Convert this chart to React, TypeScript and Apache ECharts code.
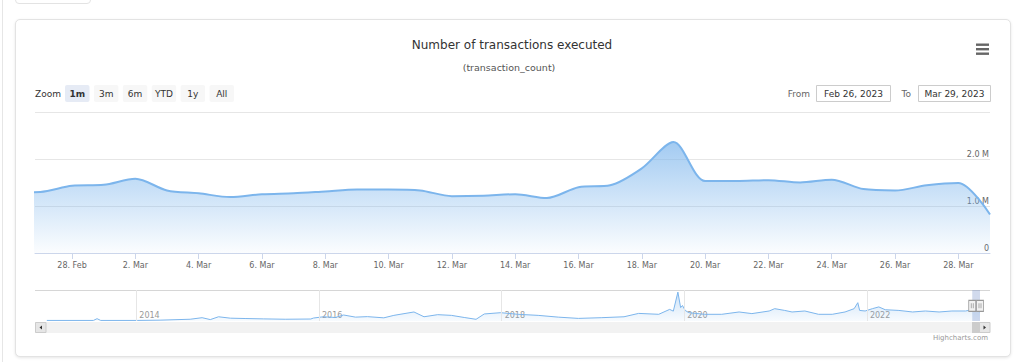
import React, { useEffect, useRef } from "react";
import * as echarts from "echarts";

// ---------- data ----------
const dates = [
  "2023-02-26", "2023-02-27", "2023-02-28", "2023-03-01", "2023-03-02", "2023-03-03",
  "2023-03-04", "2023-03-05", "2023-03-06", "2023-03-07", "2023-03-08", "2023-03-09",
  "2023-03-10", "2023-03-11", "2023-03-12", "2023-03-13", "2023-03-14", "2023-03-15",
  "2023-03-16", "2023-03-17", "2023-03-18", "2023-03-19", "2023-03-20", "2023-03-21",
  "2023-03-22", "2023-03-23", "2023-03-24", "2023-03-25", "2023-03-26", "2023-03-27",
  "2023-03-28", "2023-03-29",
];
const txCountMillions = [
  1.29, 1.30, 1.43, 1.45, 1.58, 1.33,
  1.27, 1.19, 1.25, 1.27, 1.31, 1.35,
  1.35, 1.33, 1.21, 1.22, 1.25, 1.17,
  1.40, 1.44, 1.80, 2.36, 1.53, 1.53,
  1.55, 1.50, 1.56, 1.36, 1.33, 1.44,
  1.49, 0.82,
];
const xTickDates = [
  "2023-02-28", "2023-03-02", "2023-03-04", "2023-03-06", "2023-03-08", "2023-03-10",
  "2023-03-12", "2023-03-14", "2023-03-16", "2023-03-18", "2023-03-20", "2023-03-22",
  "2023-03-24", "2023-03-26", "2023-03-28",
];
const yTicksMillions = [0, 1, 2, 3];

const navYears = [
  2013.02, 2013.53, 2013.57, 2013.61, 2014.01, 2014.26, 2014.59, 2014.72, 2014.81, 2014.90,
  2015.03, 2015.20, 2015.39, 2015.63, 2015.91, 2015.94, 2016.05, 2016.18, 2016.27, 2016.40,
  2016.53, 2016.71, 2016.82, 2017.04, 2017.15, 2017.30, 2017.45, 2017.59, 2017.72, 2017.81,
  2017.99, 2018.18, 2018.40, 2018.62, 2018.84, 2019.09, 2019.34, 2019.50, 2019.72, 2019.84,
  2019.88, 2019.93, 2019.96, 2019.98, 2020.01, 2020.05, 2020.22, 2020.41, 2020.60, 2020.74,
  2020.93, 2020.99, 2021.10, 2021.18, 2021.32, 2021.47, 2021.62, 2021.76, 2021.86, 2021.90,
  2021.92, 2021.98, 2022.06, 2022.13, 2022.20, 2022.35, 2022.50, 2022.64, 2022.79, 2022.93,
  2023.08, 2023.15, 2023.238,
];
const navCountMillions = [
  0.08, 0.08, 0.33, 0.08, 0.08, 0.12, 0.25, 0.47, 0.2, 0.6,
  0.4, 0.35, 0.3, 0.25, 0.28, 0.42, 0.6, 0.5, 0.85, 0.55,
  0.62, 0.45, 0.8, 1.28, 0.6, 0.9, 0.8, 0.5, 0.24, 1.0,
  1.18, 0.95, 0.8, 0.55, 0.37, 0.47, 0.6, 1.08, 0.95, 1.65,
  1.4, 4.1, 1.9, 2.2, 1.5, 1.18, 0.95, 0.95, 1.28, 1.05,
  1.42, 1.75, 1.5, 1.28, 1.42, 0.95, 0.95, 1.28, 1.75, 2.6,
  1.5, 1.42, 1.75, 2.0, 1.6, 1.5, 1.28, 1.42, 1.28, 1.42,
  1.42, 1.6, 1.3,
];
const navYearTicks = [2014, 2016, 2018, 2020, 2022];
const navSelection = [2023.153, 2023.238];

const zoomButtons = ["1m", "3m", "6m", "YTD", "1y", "All"];
const selectedZoom = "1m";
const rangeFrom = "Feb 26, 2023";
const rangeTo = "Mar 29, 2023";
const titleText = "Number of transactions executed";
const subtitleText = "(transaction_count)";

// ---------- helpers ----------
const FONT = "DejaVu Sans";
const MONTHS = ["Jan", "Feb", "Mar", "Apr", "May", "Jun", "Jul", "Aug", "Sep", "Oct", "Nov", "Dec"];
const DAY = 86400000;
const BASE = Date.UTC(2023, 1, 26);
const toDay = (s: string) => {
  const [y, m, d] = s.split("-").map(Number);
  return (Date.UTC(y, m - 1, d) - BASE) / DAY;
};
const dayLabel = (v: number) => {
  const d = new Date(BASE + Math.round(v) * DAY);
  return `${d.getUTCDate()}. ${MONTHS[d.getUTCMonth()]}`;
};

function buildOption() {
  const mainData = dates.map((d, i) => [toDay(d), txCountMillions[i]]);
  const tickDays = xTickDates.map(toDay);
  const navData = navYears.map((y, i) => [y, navCountMillions[i]]);

  const graphics: any[] = [];
  graphics.push({
    type: "text", x: 512, y: 45, silent: true,
    style: { text: titleText, fill: "#333333", fontSize: 12, fontFamily: FONT, align: "center", verticalAlign: "middle" },
  });
  graphics.push({
    type: "text", x: 509, y: 67, silent: true,
    style: { text: subtitleText, fill: "#555555", fontSize: 9.5, fontFamily: FONT, align: "center", verticalAlign: "middle" },
  });
  // hamburger
  [43.5, 48, 52.5].forEach((y) => {
    graphics.push({ type: "rect", silent: true, shape: { x: 976, y, width: 13, height: 2.4 }, style: { fill: "#666666" } });
  });
  // zoom label + buttons
  graphics.push({
    type: "text", x: 35, y: 93.5, silent: true,
    style: { text: "Zoom", fill: "#333333", fontSize: 9, fontFamily: FONT, align: "left", verticalAlign: "middle" },
  });
  zoomButtons.forEach((b, i) => {
    const x = 65 + i * 28.9;
    const sel = b === selectedZoom;
    graphics.push({
      type: "rect", silent: true,
      shape: { x, y: 85, width: 24.5, height: 17, r: 2 },
      style: { fill: sel ? "#e6ebf5" : "#f7f7f7", stroke: "none" },
    });
    graphics.push({
      type: "text", x: x + 12.25, y: 93.5, silent: true,
      style: { text: b, fill: "#333333", fontSize: 9, fontWeight: sel ? "bold" : "normal", fontFamily: FONT, align: "center", verticalAlign: "middle" },
    });
  });
  // From / To
  graphics.push({
    type: "text", x: 810, y: 93.5, silent: true,
    style: { text: "From", fill: "#666666", fontSize: 9, fontFamily: FONT, align: "right", verticalAlign: "middle" },
  });
  graphics.push({ type: "rect", silent: true, shape: { x: 816.5, y: 85.5, width: 74, height: 16 }, style: { fill: "#ffffff", stroke: "#cccccc", lineWidth: 1 } });
  graphics.push({
    type: "text", x: 853.5, y: 93.5, silent: true,
    style: { text: rangeFrom, fill: "#333333", fontSize: 9, fontFamily: FONT, align: "center", verticalAlign: "middle" },
  });
  graphics.push({
    type: "text", x: 911, y: 93.5, silent: true,
    style: { text: "To", fill: "#666666", fontSize: 9, fontFamily: FONT, align: "right", verticalAlign: "middle" },
  });
  graphics.push({ type: "rect", silent: true, shape: { x: 918.5, y: 85.5, width: 72, height: 16 }, style: { fill: "#ffffff", stroke: "#cccccc", lineWidth: 1 } });
  graphics.push({
    type: "text", x: 954.5, y: 93.5, silent: true,
    style: { text: rangeTo, fill: "#333333", fontSize: 9, fontFamily: FONT, align: "center", verticalAlign: "middle" },
  });
  // navigator outline
  graphics.push({ type: "line", silent: true, shape: { x1: 35, y1: 290.5, x2: 990, y2: 290.5 }, style: { stroke: "#d6d6d6", lineWidth: 1 } });
  // scrollbar
  graphics.push({ type: "rect", silent: true, shape: { x: 35, y: 322, width: 955, height: 11 }, style: { fill: "#f2f2f2", stroke: "none" } });
  graphics.push({ type: "rect", silent: true, shape: { x: 972, y: 322, width: 8, height: 11 }, style: { fill: "#cccccc", stroke: "none" } });
  graphics.push({ type: "rect", silent: true, shape: { x: 35.5, y: 322.5, width: 10.5, height: 10 }, style: { fill: "#e6e6e6", stroke: "#cccccc", lineWidth: 1 } });
  graphics.push({ type: "polygon", silent: true, shape: { points: [[42, 325.5], [42, 329.5], [39.5, 327.5]] }, style: { fill: "#333333" } });
  graphics.push({ type: "rect", silent: true, shape: { x: 979.5, y: 322.5, width: 10.5, height: 10 }, style: { fill: "#e6e6e6", stroke: "#cccccc", lineWidth: 1 } });
  graphics.push({ type: "polygon", silent: true, shape: { points: [[983.5, 325.5], [983.5, 329.5], [986, 327.5]] }, style: { fill: "#333333" } });
  // credits
  graphics.push({
    type: "text", x: 988, y: 338, silent: true,
    style: { text: "Highcharts.com", fill: "#999999", fontSize: 7, fontFamily: FONT, align: "right", verticalAlign: "middle" },
  });

  return {
    animation: false,
    backgroundColor: "transparent",
    textStyle: { fontFamily: FONT },
    grid: [
      { left: 35, top: 112, width: 955, height: 141, containLabel: false, outerBoundsMode: "none" },
      { left: 45, top: 290, width: 935, height: 31, containLabel: false, outerBoundsMode: "none" },
    ],
    xAxis: [
      {
        type: "value", gridIndex: 0, min: 0.83, max: 31,
        axisLine: { show: true, lineStyle: { color: "#ccd6eb", width: 1 } },
        axisTick: { show: true, length: 6, lineStyle: { color: "#ccd6eb" }, customValues: tickDays },
        axisLabel: {
          customValues: tickDays, formatter: (v: number) => dayLabel(v),
          color: "#666666", fontSize: 8, fontFamily: FONT, margin: 8,
        },
        splitLine: { show: false },
      },
      {
        type: "value", gridIndex: 1, min: 2013, max: 2023.238,
        axisLine: { show: false }, axisTick: { show: false }, splitLine: { show: false },
        axisLabel: {
          customValues: navYearTicks, formatter: (v: number) => String(Math.round(v)),
          inside: true, align: "left", padding: [0, 0, 0, 3], margin: 1,
          color: "#999999", fontSize: 8, fontFamily: FONT, lineHeight: 10,
        },
      },
    ],
    yAxis: [
      {
        type: "value", gridIndex: 0, position: "right", min: 0, max: 3, interval: 1,
        axisLine: { show: false }, axisTick: { show: false },
        splitLine: { show: true, lineStyle: { color: "#e6e6e6", width: 1 } },
        axisLabel: {
          inside: true, margin: 1,
          formatter: (v: number) => (v === yTicksMillions[yTicksMillions.length - 1] ? "" : v === 0 ? "0" : `${v.toFixed(1)} M`),
          color: "#666666", fontSize: 8, fontFamily: FONT, verticalAlign: "bottom", lineHeight: 10,
        },
      },
      { type: "value", gridIndex: 1, min: 0, max: 4.4, show: false, splitLine: { show: false } },
    ],
    series: [
      {
        type: "line", xAxisIndex: 0, yAxisIndex: 0, data: mainData,
        smooth: 0.3, showSymbol: false, symbol: "none", silent: true, clip: true,
        lineStyle: { color: "#7cb5ec", width: 2 },
        areaStyle: {
          color: new echarts.graphic.LinearGradient(0, 0, 0, 1, [
            { offset: 0, color: "rgba(124,181,236,1)" },
            { offset: 1, color: "rgba(124,181,236,0.04)" },
          ]),
        },
      },
      {
        type: "line", xAxisIndex: 1, yAxisIndex: 1, data: navData,
        smooth: false, showSymbol: false, symbol: "none", silent: true, clip: true,
        lineStyle: { color: "#7cb5ec", width: 1 },
        areaStyle: {
          color: new echarts.graphic.LinearGradient(0, 0, 0, 1, [
            { offset: 0, color: "rgba(124,181,236,0.55)" },
            { offset: 1, color: "rgba(124,181,236,0.08)" },
          ]),
        },
        markLine: {
          silent: true, symbol: ["none", "none"], label: { show: false }, animation: false,
          lineStyle: { color: "#e6e6e6", type: "solid", width: 1 },
          data: navYearTicks.map((y) => ({ xAxis: y })),
        },
        markArea: {
          silent: true, itemStyle: { color: "rgba(102,133,194,0.3)" },
          data: [[{ xAxis: navSelection[0] }, { xAxis: navSelection[1] }]],
        },
        markPoint: {
          silent: true, animation: false,
          symbol: "path://M0,0H7V11H0Z M2.5,3V8 M4.5,3V8",
          symbolSize: [7, 11],
          itemStyle: { color: "#f2f2f2", borderColor: "#999999", borderWidth: 1 },
          label: { show: false },
          data: navSelection.map((x) => ({ coord: [x, 2.15] })),
        },
      },
    ],
    graphic: graphics,
  };
}

export default function App() {
  const ref = useRef<HTMLDivElement>(null);
  useEffect(() => {
    if (!ref.current) return;
    const chart = echarts.init(ref.current, undefined, { renderer: "svg" });
    chart.setOption(buildOption() as any);
    return () => chart.dispose();
  }, []);
  return (
    <div style={{ position: "fixed", left: 0, top: 0, width: 1024, height: 362, background: "#ffffff", overflow: "hidden" }}>
      <div style={{ position: "absolute", left: 2, top: 0, width: 1, height: 362, background: "#e6e6e6" }} />
      <div style={{ position: "absolute", left: 15, top: -10, width: 76, height: 14, boxSizing: "border-box", border: "1px solid #e3e3e3", borderRadius: 4 }} />
      <div
        style={{
          position: "absolute", left: 15, top: 19, width: 996, height: 338, boxSizing: "border-box",
          border: "1px solid #e3e3e3", borderRadius: 5, boxShadow: "0 1px 3px rgba(0,0,0,0.10)", background: "#ffffff",
        }}
      />
      <div ref={ref} style={{ position: "absolute", left: 0, top: 0, width: 1024, height: 362 }} />
    </div>
  );
}
